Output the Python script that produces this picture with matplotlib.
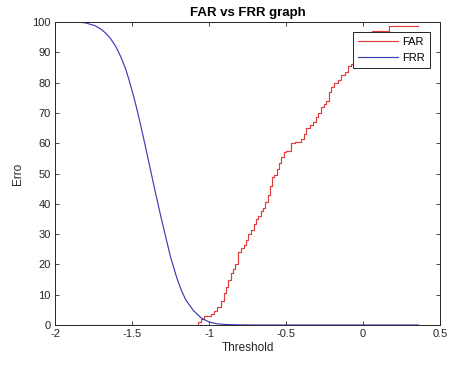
import matplotlib
matplotlib.use('Agg')
import matplotlib.pyplot as plt

# FAR curve (stairs)
far_thr = [-1.85, -1.07, -1.055, -1.03, -0.99, -0.965, -0.945, -0.925, -0.905, -0.89,
           -0.875, -0.86, -0.845, -0.83, -0.81, -0.79, -0.775, -0.76, -0.745, -0.73,
           -0.71, -0.695, -0.68, -0.665, -0.65, -0.635, -0.62, -0.605, -0.59, -0.575,
           -0.56, -0.545, -0.53, -0.515, -0.50, -0.47, -0.44, -0.40, -0.385, -0.37,
           -0.345, -0.325, -0.305, -0.29, -0.275, -0.255, -0.24, -0.22, -0.205, -0.19,
           -0.16, -0.14, -0.12, -0.10, -0.08, -0.06, -0.045, -0.03, -0.015, 0.0,
           0.02, 0.04, 0.06, 0.17, 0.36]
far_val = [0, 1, 2, 3, 3.5, 4.5, 6, 8, 10.5, 12.5,
           15, 17, 18.5, 20, 24, 25.5, 26.5, 28, 30, 31.5,
           33.5, 35, 36, 37.5, 38.5, 40.5, 43, 46, 49, 49.5,
           51.5, 53.5, 55.5, 57, 57.5, 60, 60.5, 61.5, 63, 65,
           66, 67, 68.5, 70, 72, 73, 74, 77, 78.5, 80,
           81, 82.5, 83.5, 85.5, 86, 87.5, 88.5, 90, 91, 92.5,
           94, 95.5, 97.2, 98.7, 98.7]

# FRR curve
frr_thr = [-1.85, -1.80, -1.74, -1.70, -1.67, -1.64, -1.61, -1.59, -1.565, -1.54,
           -1.52, -1.49, -1.47, -1.45, -1.425, -1.40, -1.38, -1.35, -1.315, -1.285,
           -1.25, -1.21, -1.18, -1.15, -1.10, -1.05, -1.00, -0.95, -0.90, -0.85,
           -0.80, -0.70, -0.50, 0.0, 0.36]
frr_val = [100, 99.7, 98.8, 97.6, 96.3, 94.6, 92.3, 90.4, 87.6, 84.3,
           81, 75.6, 71.6, 67.3, 61.7, 55.9, 51.2, 44.2, 36.3, 29.9,
           22.5, 15.7, 11.5, 8.2, 4.7, 2.3, 1.0, 0.4, 0.2, 0.1,
           0.05, 0, 0, 0, 0]

xticks = [-2, -1.5, -1, -0.5, 0, 0.5]
xtick_labels = ['-2', '-1.5', '-1', '-0.5', '0', '0.5']
yticks = list(range(0, 101, 10))

plt.rcParams['font.family'] = ['Liberation Sans', 'DejaVu Sans']

f = plt.figure(figsize=(4.49, 3.65), dpi=100)
ax = f.add_axes([0.1225, 0.1096, 0.8575, 0.830])

ax.plot(far_thr, far_val, color='#e03c3c', lw=0.85, drawstyle='steps-post', label='FAR')
ax.plot(frr_thr, frr_val, color='#3c3cb4', lw=0.85, label='FRR')

ax.set_xlim(-2, 0.5)
ax.set_ylim(0, 100)
ax.set_xticks(xticks)
ax.set_xticklabels(xtick_labels)
ax.set_yticks(yticks)
ax.tick_params(direction='in', length=3, width=0.6, top=True, right=True,
               labelsize=8, colors='#262626', pad=3)
for s in ax.spines.values():
    s.set_linewidth(0.7)
    s.set_color('#262626')

ax.set_xlabel('Threshold', fontsize=8.5, color='#262626', labelpad=2)
ax.set_ylabel('Erro', fontsize=8.5, color='#262626', labelpad=6)
ax.set_title('FAR vs FRR graph', fontsize=9.5, fontweight='bold', pad=4)

leg = ax.legend(loc='upper right', fontsize=8, handlelength=3.6, fancybox=False,
                borderaxespad=0.9, framealpha=1, borderpad=0.45, labelspacing=0.55,
                handletextpad=0.4)
leg.get_frame().set_edgecolor('#262626')
leg.get_frame().set_linewidth(0.7)

f.savefig('out.png', dpi=100)
